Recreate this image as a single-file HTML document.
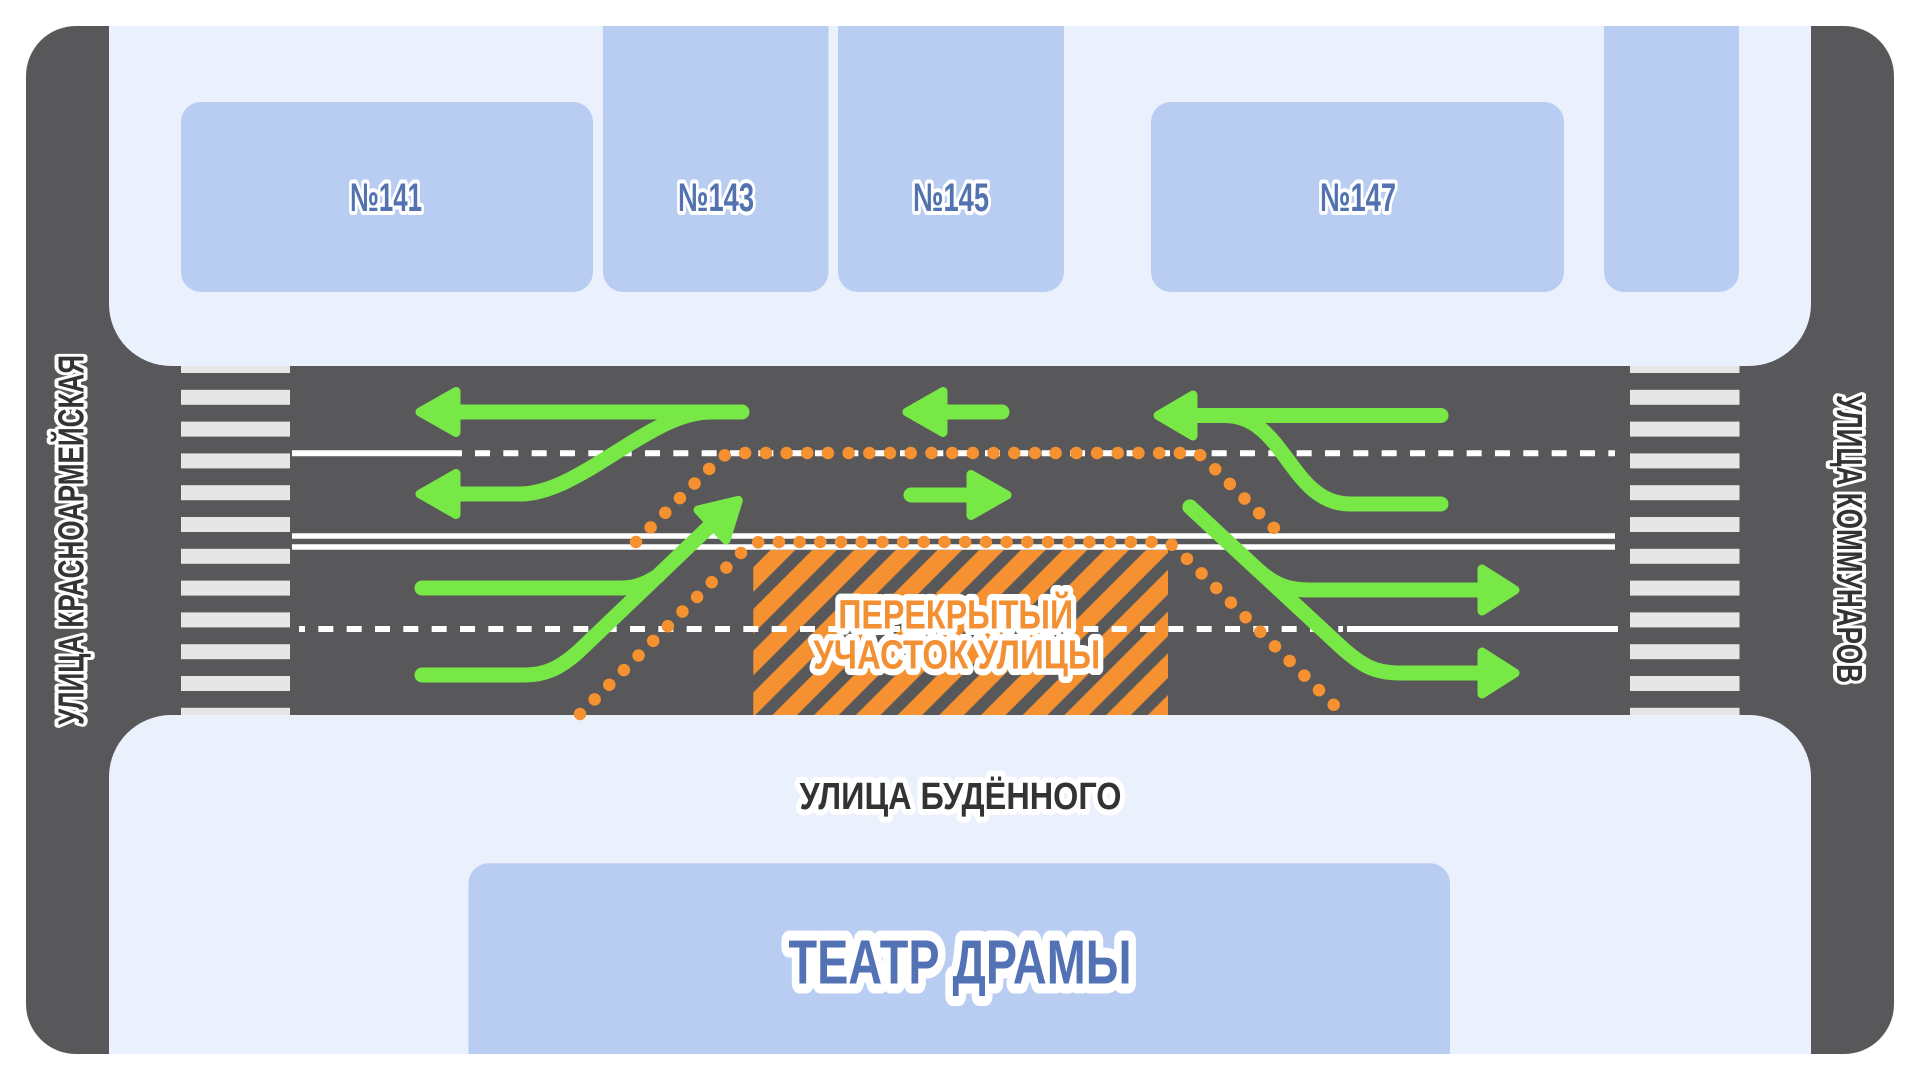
<!DOCTYPE html>
<html>
<head>
<meta charset="utf-8">
<style>
html,body{margin:0;padding:0;background:#ffffff;}
svg{display:block;}
text{font-family:"Liberation Sans","DejaVu Sans",sans-serif;font-weight:bold;}
</style>
</head>
<body>
<svg width="1920" height="1080" viewBox="0 0 1920 1080" xmlns="http://www.w3.org/2000/svg">
<defs>
  <clipPath id="outer">
    <rect x="26" y="26" width="1868" height="1028" rx="50" ry="50"/>
  </clipPath>
  <pattern id="hatch" patternUnits="userSpaceOnUse" width="29.5" height="29.5" patternTransform="rotate(45)">
    <rect x="0" y="0" width="29.5" height="29.5" fill="#58585A"/>
    <rect x="19.3" y="0" width="10.2" height="29.5" fill="#F59130"/>
    <rect x="0" y="0" width="7.2" height="29.5" fill="#F59130"/>
  </pattern>
</defs>

<rect width="1920" height="1080" fill="#ffffff"/>

<g clip-path="url(#outer)">
  <rect x="0" y="0" width="1920" height="1080" fill="#58585A"/>

  <g fill="#E6E6E6">
    <rect x="181" y="358" width="109" height="15"/>
    <rect x="181" y="389.8" width="109" height="15"/>
    <rect x="181" y="421.6" width="109" height="15"/>
    <rect x="181" y="453.4" width="109" height="15"/>
    <rect x="181" y="485.2" width="109" height="15"/>
    <rect x="181" y="517" width="109" height="15"/>
    <rect x="181" y="548.8" width="109" height="15"/>
    <rect x="181" y="580.6" width="109" height="15"/>
    <rect x="181" y="612.4" width="109" height="15"/>
    <rect x="181" y="644.2" width="109" height="15"/>
    <rect x="181" y="676" width="109" height="15"/>
    <rect x="181" y="707.8" width="109" height="15"/>

    <rect x="1630" y="358" width="109.5" height="15"/>
    <rect x="1630" y="389.8" width="109.5" height="15"/>
    <rect x="1630" y="421.6" width="109.5" height="15"/>
    <rect x="1630" y="453.4" width="109.5" height="15"/>
    <rect x="1630" y="485.2" width="109.5" height="15"/>
    <rect x="1630" y="517" width="109.5" height="15"/>
    <rect x="1630" y="548.8" width="109.5" height="15"/>
    <rect x="1630" y="580.6" width="109.5" height="15"/>
    <rect x="1630" y="612.4" width="109.5" height="15"/>
    <rect x="1630" y="644.2" width="109.5" height="15"/>
    <rect x="1630" y="676" width="109.5" height="15"/>
    <rect x="1630" y="707.8" width="109.5" height="15"/>
  </g>

  <path d="M109 0 H1811 V304 A62 62 0 0 1 1749 366 H171 A62 62 0 0 1 109 304 Z" fill="#EAF1FC"/>
  <path d="M109 1080 V777 A62 62 0 0 1 171 715 H1749 A62 62 0 0 1 1811 777 V1080 Z" fill="#EAF1FC"/>

  <g fill="#B9CDF2">
    <rect x="181" y="102" width="412" height="190" rx="20" ry="20"/>
    <rect x="603" y="-20" width="225.5" height="312" rx="20" ry="20"/>
    <rect x="838" y="-20" width="226" height="312" rx="20" ry="20"/>
    <rect x="1151" y="102" width="413" height="190" rx="20" ry="20"/>
    <rect x="1604" y="-20" width="135" height="312" rx="20" ry="20"/>
    <rect x="468.5" y="863.3" width="981.5" height="240" rx="20" ry="20"/>
  </g>

  <rect x="753.3" y="550" width="414.7" height="165" fill="url(#hatch)"/>

  <g stroke="#FFFFFF" stroke-width="6" fill="none">
    <line x1="292" y1="453.3" x2="462" y2="453.3"/>
    <line x1="475" y1="453.3" x2="1615" y2="453.3" stroke-dasharray="15 13.333"/>
    <line x1="292" y1="536" x2="1615" y2="536" stroke-width="5.5"/>
    <line x1="292" y1="547" x2="1615" y2="547" stroke-width="5.5"/>
    <line x1="299" y1="629" x2="1343" y2="629" stroke-dasharray="15 13.333" stroke-dashoffset="9"/>
    <line x1="1347" y1="629" x2="1618" y2="629"/>
  </g>

  <g stroke="#F59130" stroke-width="12.5" stroke-linecap="round" fill="none" stroke-dasharray="0 20.7">
    <path d="M636 542 L716 462 Q724 453 736 453 L1192 453 Q1200 453 1206 460 L1287 541"/>
    <path d="M580 714 L745 549 Q752 542 762 542 L1160 542 Q1170 542 1176 548 L1343 714"/>
  </g>

  <g stroke="#78E846" stroke-width="15" stroke-linecap="round" stroke-linejoin="round" fill="none">
    <path d="M742 412 L455 412"/>
    <path d="M710 412 C650 412 580 494 520 494 L455 494"/>
    <path d="M422 675 L525 675 C545 675 560 668 578 652 L711 525"/>
    <path d="M422 588 L620 588 C638 588 648 582 658 576"/>
    <path d="M1002 412 L945 412"/>
    <path d="M911 495 L970 495"/>
    <path d="M1441 415.5 L1195 415.5"/>
    <path d="M1441 504 L1350 504 C1290 504 1285 415.5 1225 415.5"/>
    <path d="M1190 507 L1258 570 C1275 585 1288 590 1310 590 L1480 590"/>
    <path d="M1190 507 L1340 646 C1362 666 1375 673 1400 673 L1480 673"/>
  </g>
  <g fill="#78E846" stroke="#78E846" stroke-width="9" stroke-linejoin="round">
    <polygon points="420,412 456,391.5 456,432.5"/>
    <polygon points="420,494 456,473.5 456,514.5"/>
    <polygon points="907,412 943,391.5 943,432.5"/>
    <polygon points="1158,415.5 1193,395 1193,436"/>
    <polygon points="1007,495 971,474.5 971,515.5"/>
    <polygon points="1515,590 1482,569 1482,611"/>
    <polygon points="1515,673 1482,652 1482,694"/>
    <g transform="translate(742,497) rotate(-43)">
      <polygon points="-5,0 -41,-20.5 -41,20.5"/>
    </g>
  </g>
</g>

<g paint-order="stroke" stroke="#FFFFFF" stroke-linejoin="round" text-anchor="middle">
  <g fill="#5372B0" stroke-width="8" font-size="40">
    <text x="386" y="211" textLength="72" lengthAdjust="spacingAndGlyphs">№141</text>
    <text x="716" y="211" textLength="76" lengthAdjust="spacingAndGlyphs">№143</text>
    <text x="951" y="211" textLength="76" lengthAdjust="spacingAndGlyphs">№145</text>
    <text x="1358" y="211" textLength="76" lengthAdjust="spacingAndGlyphs">№147</text>
  </g>

  <text x="960.5" y="809" font-size="38" fill="#333333" stroke-width="12" textLength="322" lengthAdjust="spacingAndGlyphs">УЛИЦА БУДЁННОГО</text>

  <text x="960" y="983.5" font-size="62" fill="#5272B5" stroke-width="20" textLength="343" lengthAdjust="spacingAndGlyphs">ТЕАТР ДРАМЫ</text>

  <text x="955.7" y="628.5" font-size="41" fill="#F39033" stroke-width="13" textLength="235" lengthAdjust="spacingAndGlyphs">ПЕРЕКРЫТЫЙ</text>
  <text x="956.7" y="668.5" font-size="41" fill="#F39033" stroke-width="13" textLength="287" lengthAdjust="spacingAndGlyphs">УЧАСТОК УЛИЦЫ</text>

  <text transform="translate(83.5,540) rotate(-90)" x="0" y="0" font-size="36" fill="#333333" stroke-width="8" textLength="370" lengthAdjust="spacingAndGlyphs">УЛИЦА КРАСНОАРМЕЙСКАЯ</text>

  <text transform="translate(1837,539) rotate(90)" x="0" y="0" font-size="36" fill="#333333" stroke-width="8" textLength="288" lengthAdjust="spacingAndGlyphs">УЛИЦА КОММУНАРОВ</text>
</g>
</svg>
</body>
</html>
